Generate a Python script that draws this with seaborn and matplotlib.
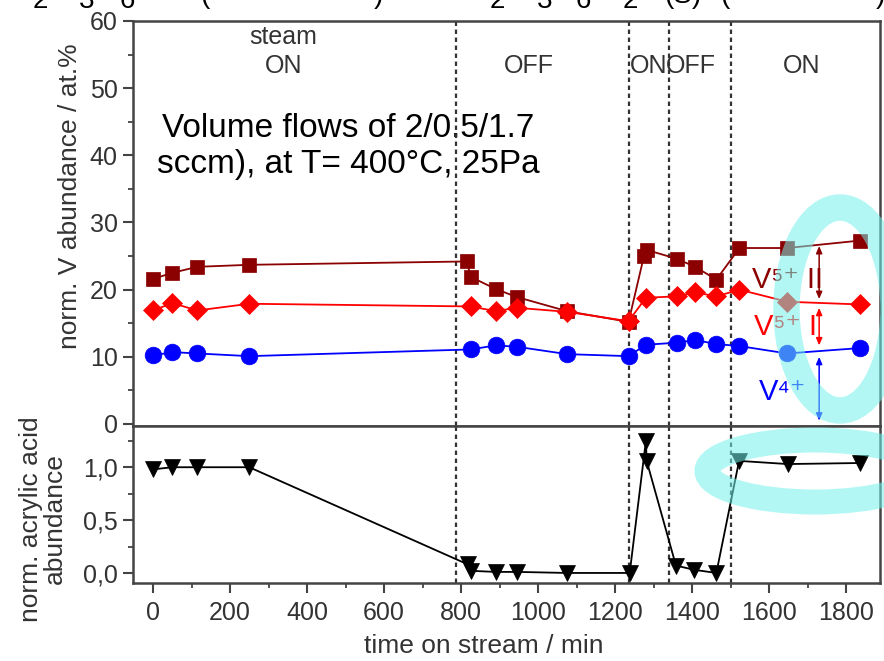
import numpy as np
import pandas as pd
import matplotlib
matplotlib.use("Agg")
import matplotlib.pyplot as plt
from matplotlib.patches import Ellipse
from matplotlib.ticker import MultipleLocator
import seaborn as sns

# ---------------- data ----------------
t_v5ii = [0, 50, 115, 250, 815, 825, 890, 945, 1075, 1235, 1275, 1283, 1360, 1408, 1463, 1523, 1647, 1835]
v5ii = [21.6, 22.5, 23.4, 23.7, 24.2, 21.9, 20.1, 18.9, 16.8, 15.2, 25.0, 25.9, 24.6, 23.4, 21.5, 26.2, 26.2, 27.3]

t_v5i = [0, 50, 115, 250, 825, 890, 945, 1075, 1235, 1280, 1360, 1408, 1463, 1523, 1647, 1835]
v5i = [16.9, 18.0, 16.9, 17.9, 17.5, 16.8, 17.3, 16.7, 15.3, 18.8, 19.0, 19.6, 19.0, 20.0, 18.2, 17.8]

t_v4 = [0, 50, 115, 250, 825, 890, 945, 1075, 1235, 1280, 1360, 1408, 1463, 1523, 1647, 1835]
v4 = [10.2, 10.7, 10.5, 10.1, 11.1, 11.7, 11.5, 10.4, 10.1, 11.8, 12.1, 12.5, 11.9, 11.6, 10.5, 11.3]

t_acr = [0, 50, 115, 250, 818, 826, 890, 945, 1075, 1238, 1280, 1282, 1358, 1405, 1463, 1522, 1648, 1836]
acr = [0.98, 1.0, 1.0, 1.0, 0.08, 0.02, 0.01, 0.01, 0.0, 0.0, 1.25, 1.06, 0.07, 0.03, 0.0, 1.06, 1.03, 1.04]

switch_times = [786, 1236, 1341, 1501]
phase_labels = ["ON", "OFF", "ON", "OFF", "ON"]
phase_x = [338, 975, 1287, 1396, 1685]

top_yticks = [0, 10, 20, 30, 40, 50, 60]
bot_yticks = [0.0, 0.5, 1.0]
bot_yticklabels = ["0,0", "0,5", "1,0"]
xticks = [0, 200, 400, 600, 800, 1000, 1200, 1400, 1600, 1800]

# ---------------- style ----------------
sns.set_theme(style="ticks")
FAM = ["Liberation Sans", "DejaVu Sans"]
plt.rcParams["font.family"] = FAM
GRAY = "#444444"
TXT = "#333333"

W, H = 884, 661
fig = plt.figure(figsize=(W / 100, H / 100), dpi=100)
L, R = 133, 880
SEP = 426
ax1 = fig.add_axes([L / W, 1 - SEP / H, (R - L) / W, (SEP - 21) / H])
ax2 = fig.add_axes([L / W, 1 - 583 / H, (R - L) / W, (583 - SEP) / H])

xlim = (-52, 1888)

def draw(ax, t, v, color, marker, ms):
    df = pd.DataFrame({"t": t, "v": v})
    sns.lineplot(data=df, x="t", y="v", ax=ax, sort=False, estimator=None,
                 color=color, marker=marker, markersize=ms, markeredgecolor=color,
                 markeredgewidth=0.5, linewidth=1.3)

draw(ax1, t_v5ii, v5ii, "#8B0000", "s", 10.5)
draw(ax1, t_v5i, v5i, "#FF0000", "D", 10)
draw(ax1, t_v4, v4, "#0000FF", "o", 12)
draw(ax2, t_acr, acr, "#000000", "v", 12)

for ax in (ax1, ax2):
    ax.set_xlim(*xlim)
    for ts in switch_times:
        ax.axvline(ts, color="#333333", lw=1.6, ls=(0, (2, 1.6)), zorder=0.5)
    for s in ax.spines.values():
        s.set_color(GRAY)
        s.set_linewidth(1.8)
    ax.set_xlabel("")
    ax.set_ylabel("")
    ax.tick_params(which="major", direction="out", length=7, width=1.5, color=GRAY,
                   labelsize=18, labelcolor=TXT, pad=4)
    ax.tick_params(which="minor", direction="out", length=3.5, width=1.3, color=GRAY)

ax1.set_ylim(-0.3, 60)
ax1.set_yticks(top_yticks)
ax1.yaxis.set_minor_locator(MultipleLocator(5))
ax1.set_xticks([])
ax1.tick_params(axis="x", which="both", bottom=False, labelbottom=False)

ax2.set_ylim(-0.095, 1.39)
ax2.set_yticks(bot_yticks)
ax2.set_yticklabels(bot_yticklabels)
ax2.yaxis.set_minor_locator(MultipleLocator(0.25))
ax2.set_xticks(xticks)
ax2.xaxis.set_minor_locator(MultipleLocator(100))
ax2.tick_params(axis="x", which="major", pad=6)

# phase labels
ax1.text(338, 57.6, "steam", ha="center", va="center", fontsize=18, color=TXT)
for lab, x in zip(phase_labels, phase_x):
    ax1.text(x, 53.3, lab, ha="center", va="center", fontsize=18, color=TXT)

# annotation
ax1.text(506, 41.3, "Volume flows of 2/0.5/1.7\nsccm), at T= 400°C, 25Pa",
         ha="center", va="center", fontsize=24, color="black", linespacing=1.2, zorder=0.4)

# V labels
ax1.text(1556, 21.4, "V⁵⁺ II", color="#8B0000", fontsize=21, ha="left", va="center", family=FAM)
ax1.text(1562, 14.4, "V⁵⁺ I", color="#FF0000", fontsize=21, ha="left", va="center", family=FAM)
ax1.text(1574, 4.8, "V⁴⁺", color="#0000FF", fontsize=21, ha="left", va="center", family=FAM)
arr = [(26.5, 18.6, "#8B0000"), (17.3, 11.7, "#FF0000"), (10.0, 0.5, "#0000FF")]
for y0, y1, c in arr:
    ax1.annotate("", xy=(1730, y1), xytext=(1730, y0),
                 arrowprops=dict(arrowstyle="<|-|>,head_length=0.35,head_width=0.15",
                                 color=c, lw=1.1, shrinkA=0, shrinkB=0))

# axis labels
fig.text(70 / W, 1 - 196 / H, "norm. V abundance / at.%", rotation=90, ha="center",
         va="center", fontsize=19, color=TXT)
fig.text(43 / W, 1 - 519 / H, "norm. acrylic acid\nabundance", rotation=90, ha="center",
         va="center", fontsize=19, color=TXT, multialignment="center", linespacing=1.0)
fig.text(484 / W, 1 - 646 / H, "time on stream / min", ha="center", va="center",
         fontsize=19, color=TXT)

# cut-off title fragments at the top edge
frag = [("2", 40, 8), ("3", 87, 8), ("6", 127, 8), ("(", 205, 3), (")", 378, 3),
        ("2", 497, 8), ("3", 545, 8), ("6", 583, 8), ("2", 630, 8), ("(S)", 683, 3),
        ("(", 725, 3), (")", 880, 3)]
for s, x, yb in frag:
    fig.text(x / W, 1 - yb / H, s, ha="center", va="baseline", fontsize=20, color="black")

# highlight ellipses (overlay in pixel coords)
ov = fig.add_axes([0, 0, 1, 1], zorder=10)
ov.set_xlim(0, W)
ov.set_ylim(H, 0)
ov.axis("off")
ov.patch.set_alpha(0)
ring = (0.45, 0.95, 0.92)
ov.add_patch(Ellipse((840, 309), 2 * 53.5, 2 * 101.5, fill=False, edgecolor=ring,
                     lw=19, alpha=0.55))
ov.add_patch(Ellipse((815, 471), 2 * 108, 2 * 31, fill=False, edgecolor=ring,
                     lw=18, alpha=0.55))

fig.savefig("out.png", dpi=100)
